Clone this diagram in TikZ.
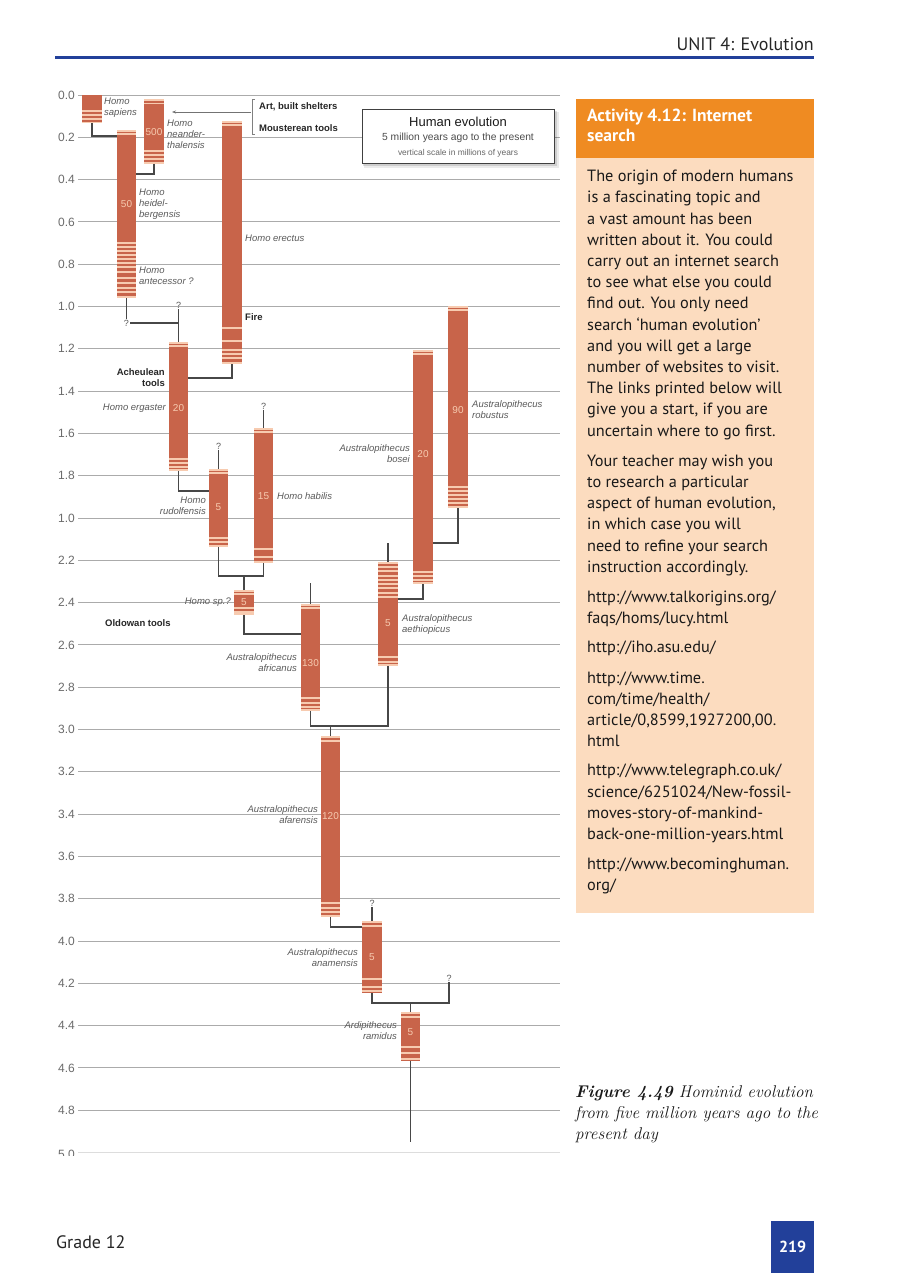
\documentclass[tikz,border=0pt]{standalone}
\usepackage{fontspec}
\newfontfamily\pts{PT Sans}
\newfontfamily\lsans{Liberation Sans}
\usetikzlibrary{arrows.meta}
\definecolor{rust}{HTML}{C8644A}
\definecolor{stripec}{HTML}{F7CBB0}
\definecolor{connc}{HTML}{474747}
\definecolor{gridc}{HTML}{ABABAB}
\definecolor{labc}{HTML}{5A5A5A}
\definecolor{orangeh}{HTML}{EF8B22}
\definecolor{peach}{HTML}{FCDCBF}
\definecolor{pblue}{HTML}{22409A}
\tikzset{
  barbox/.style={rectangle, fill=rust, draw=none, inner sep=0pt, outer sep=0pt},
  stripe/.style={draw=stripec, line width=1.1pt},
  num/.style={text=stripec, font=\lsans\fontsize{10}{11}\selectfont, inner sep=0pt},
  lab/.style={text=labc, font=\lsans\itshape\fontsize{9.5}{11}\selectfont, inner sep=0pt},
  blab/.style={text=black!85, font=\lsans\bfseries\fontsize{9.5}{11}\selectfont, inner sep=0pt},
  qm/.style={text=labc, font=\lsans\fontsize{9}{10}\selectfont, inner sep=1pt},
  connl/.style={draw=connc, line width=1.7pt},
  gridline/.style={draw=gridc, line width=0.9pt},
  axl/.style={text=labc!90, font=\lsans\fontsize{12}{14}\selectfont, inner sep=0pt},
}
\newcommand\hominid[8]{%
  \node[barbox, minimum width={#3-#2}, minimum height={#5-#4}] (#1) at ({(#2+#3)/2},{(#4+#5)/2}) {};
  \foreach \s in {#6} {\draw[stripe] (#1.west |- 0,\s) -- (#1.east |- 0,\s);}
  \node[num] (#1-n) at (#1.center |- 0,#7) {#8};
}
\begin{document}
\begin{tikzpicture}[x=1pt,y=-1pt]
\useasboundingbox[fill=white] (0,0) rectangle (900,1273);

% header
\node[anchor=base east, font=\pts\fontsize{18}{20}\selectfont, text=black!85, inner sep=0pt] (hdr) at (814,50.5) {UNIT 4: Evolution};
\draw[pblue, line width=2.2pt] (55,57.5) -- (814,57.5);

% grid
\foreach \i in {0,...,24} {\draw[gridline] (78,{95+\i*42.3}) -- (560,{95+\i*42.3});}
\draw[draw=gridc!40, line width=0.9pt] (78,1152.5) -- (560,1152.5);
\foreach \t [count=\i from 0] in {0.0,0.2,0.4,0.6,0.8,1.0,1.2,1.4,1.6,1.8,1.0,2.2,2.4,2.6,2.8,3.0,3.2,3.4,3.6,3.8,4.0,4.2,4.4,4.6,4.8} {
  \node[axl, anchor=east] (ax\i) at (75,{95+\i*42.3}) {\t};
}
\begin{scope}
\clip (0,1100) rectangle (100,1155.5);
\node[axl, anchor=east] (ax25) at (75,1154) {5.0};
\end{scope}

% title box
\fill[black, opacity=0.08] (364,112) rectangle (559,168);
\fill[black, opacity=0.12] (363,111) rectangle (557,166);
\node[draw=black!75, fill=white, line width=0.8pt, minimum width=192, minimum height=54, inner sep=0pt] (ttl) at (458,136) {};
\node[font=\lsans\fontsize{13}{15}\selectfont, text=black!90, inner sep=0pt] (ttl1) at (458,122) {Human evolution};
\node[font=\lsans\fontsize{10.3}{12}\selectfont, text=black!70, inner sep=0pt] (ttl2) at (458,137.5) {5 million years ago to the present};
\node[font=\lsans\fontsize{8.4}{10}\selectfont, text=black!60, inner sep=0pt] (ttl3) at (458,153) {vertical scale in millions of years};

% bars
\hominid{sap}{82}{102}{95}{123}{111,115,119,122.3}{108}{}
\hominid{nea}{144}{164}{99}{164}{100,103.5,151,155,159,163}{132}{500}
\hominid{hei}{117}{136}{130}{298}{131,134,243,247,251,255,259,263,267,272,278,283,288,292,297}{204}{50}
\hominid{ere}{222}{242}{121}{364}{122,125,328,341,350,354,358,363}{200}{}
\hominid{erg}{169}{188}{342}{471}{343,346,459,463,467,470}{408}{20}
\hominid{rud}{209}{228}{469}{547}{470,473,538,542,546}{507}{5}
\hominid{hab}{254}{273}{428}{563}{429,432,549,557,562}{496}{15}
\hominid{hsp}{234}{254}{590}{615}{591,594,608,612,614}{602}{5}
\hominid{afr}{301}{320}{604}{711}{605,608,698,703,707,710}{663}{130}
\hominid{aet}{378}{398}{562}{666}{563,567,571,576,580,584,588,593,597,657,662,665}{623}{5}
\hominid{bos}{413}{433}{350}{584}{351,354,572,576,580,583}{454}{20}
\hominid{rob}{448}{468}{306}{508}{307,310,487,491,495,499,503,507}{410}{90}
\hominid{afa}{321}{340}{736}{917}{737,741,903,908,912,916}{816}{120}
\hominid{ana}{362}{382}{921}{993}{922,926,979,987,991}{957}{5}
\hominid{ram}{401}{420}{1012}{1061}{1013,1017,1047,1053,1059}{1032}{5}

% question marks
\node[qm] (q1) at (126.5,323) {?};
\node[qm] (q2) at (178.5,305) {?};
\node[qm] (q3) at (218.5,446) {?};
\node[qm] (q4) at (263.5,406) {?};
\node[qm] (q5) at (372,903) {?};
\node[qm] (q6) at (449,978) {?};
\coordinate (afrtop) at (310.5,583);
\coordinate (aettop) at (388,543);
\coordinate (rambot) at (410.5,1142);

% connectors
\draw[connl] (sap.south) |- (hei.west |- 0,136);
\draw[connl] (nea.south) |- (hei.east |- 0,174);
\draw[connl] (hei.south) -- (q1.north);
\draw[connl] (q1.east) -- (erg.north |- q1.east);
\draw[connl] (q2.south) -- (erg.north);
\draw[connl] (ere.south) |- (erg.east |- 0,378);
\draw[connl] (erg.south) |- (rud.west |- 0,491);
\draw[connl] (q3.south) -- (rud.north);
\draw[connl] (q4.south) -- (hab.north);
\draw[connl] (rud.south) |- (hab.south |- 0,576) -- (hab.south);
\draw[connl] (hsp.north) -- (hsp.north |- 0,576);
\draw[connl] (hsp.south) |- (afr.west |- 0,634);
\draw[connl] (afrtop) -- (afr.north);
\draw[connl] (aettop) -- (aet.north);
\draw[connl] (bos.south) |- (aet.east |- 0,599);
\draw[connl] (rob.south) |- (bos.east |- 0,543);
\draw[connl] (afr.south) |- (aet.south |- 0,726) -- (aet.south);
\draw[connl] (afa.north) -- (afa.north |- 0,726);
\draw[connl] (afa.south) |- (ana.west |- 0,927);
\draw[connl] (q5.south) -- (ana.north);
\draw[connl] (ana.south) |- (q6.south |- 0,1003) -- (q6.south);
\draw[connl] (ram.north) -- (ram.north |- 0,1003);
\draw[connl] (ram.south) -- (rambot);

% species labels
\node[lab, anchor=west, align=left] (l-sap) at (104,108) {Homo\\sapiens};
\node[lab, anchor=west, align=left] (l-nea) at (167,134) {Homo\\neander-\\thalensis};
\node[lab, anchor=west, align=left] (l-hei) at (139,204) {Homo\\heidel-\\bergensis};
\node[lab, anchor=west, align=left] (l-ant) at (139,276) {Homo\\antecessor ?};
\node[lab, anchor=west] (l-ere) at (245,238) {Homo erectus};
\node[lab, anchor=east] (l-erg) at (166,408) {Homo ergaster};
\node[lab, anchor=east, align=right] (l-rud) at (206,506) {Homo\\rudolfensis};
\node[lab, anchor=west] (l-hab) at (277,496) {Homo habilis};
\node[lab, anchor=east] (l-hsp) at (231,602) {Homo sp.?};
\node[lab, anchor=east, align=right] (l-afr) at (297,663) {Australopithecus\\africanus};
\node[lab, anchor=west, align=left] (l-aet) at (402,625) {Australopithecus\\aethiopicus};
\node[lab, anchor=east, align=right] (l-bos) at (410,454) {Australopithecus\\bosei};
\node[lab, anchor=west, align=left] (l-rob) at (472,410) {Australopithecus\\robustus};
\node[lab, anchor=east, align=right] (l-afa) at (318,815) {Australopithecus\\afarensis};
\node[lab, anchor=east, align=right] (l-ana) at (358,958) {Australopithecus\\anamensis};
\node[lab, anchor=east, align=right] (l-ram) at (397,1031) {Ardipithecus\\ramidus};

% tool / culture labels
\node[blab, anchor=west] (art) at (259,107) {Art, built shelters};
\node[blab, anchor=west] (mou) at (259,128) {Mousterean tools};
\node[blab, anchor=west] (fire) at (245,317) {Fire};
\node[blab, anchor=east, align=right] (ach) at (165,377.5) {Acheulean\\tools};
\node[blab, anchor=west] (old) at (105,623) {Oldowan tools};
\coordinate (brk) at (251,112);
\coordinate (arrend) at (172,112);
\draw[black!50, line width=0.6pt] (254.5,99) -- (252,99) -- (252,134) -- (254.5,134);
\draw[black!55, line width=0.6pt, -{Stealth[length=4pt,width=3pt]}] (brk) -- (arrend);

% activity box
\node[fill=orangeh, minimum width=238, minimum height=59, anchor=north west, inner sep=0pt] (acth) at (576,99) {};
\node[fill=peach, minimum width=238, minimum height=755, anchor=north west, inner sep=0pt] (actb) at (576,158) {};
\node[anchor=west, text=white, font=\pts\bfseries\fontsize{17.5}{20.5}\selectfont, align=left, inner sep=0pt] (actt) at (587,125.5) {Activity 4.12: Internet\\search};
\node[anchor=north west, text=black!90, font=\pts\fontsize{16.3}{21.2}\selectfont, align=left, inner sep=0pt] (actx) at (587,170) {%
The origin of modern humans\\
is a fascinating topic and\\
a vast amount has been\\
written about it. You could\\
carry out an internet search\\
to see what else you could\\
find out. You only need\\
search ‘human evolution’\\
and you will get a large\\
number of websites to visit.\\
The links printed below will\\
give you a start, if you are\\
uncertain where to go first.\\[9pt]
Your teacher may wish you\\
to research a particular\\
aspect of human evolution,\\
in which case you will\\
need to refine your search\\
instruction accordingly.\\[9pt]
http://www.talkorigins.org/\\
faqs/homs/lucy.html\\[8pt]
http://iho.asu.edu/\\[9pt]
http://www.time.\\
com/time/health/\\
article/0,8599,1927200,00.\\
html\\[8pt]
http://www.telegraph.co.uk/\\
science/6251024/New-fossil-\\
moves-story-of-mankind-\\
back-one-million-years.html\\[9pt]
http://www.becominghuman.\\
org/};

% caption
\node[anchor=north west, align=left, text=black!90, font=\fontsize{17}{21}\selectfont\itshape, inner sep=0pt] (cap) at (575,1085) {\textbf{Figure 4.49} Hominid evolution\\from five million years ago to the\\present day};

% footer
\node[anchor=base west, font=\pts\fontsize{18}{20}\selectfont, text=black!85, inner sep=0pt] (grade) at (56,1248) {Grade 12};
\node[fill=pblue, minimum width=43, minimum height=52, anchor=north west, inner sep=0pt] (pgbox) at (771,1221) {};
\node[text=white, font=\pts\bfseries\fontsize{16}{18}\selectfont, inner sep=0pt] (pgnum) at (pgbox.center) {219};
\end{tikzpicture}
\end{document}
